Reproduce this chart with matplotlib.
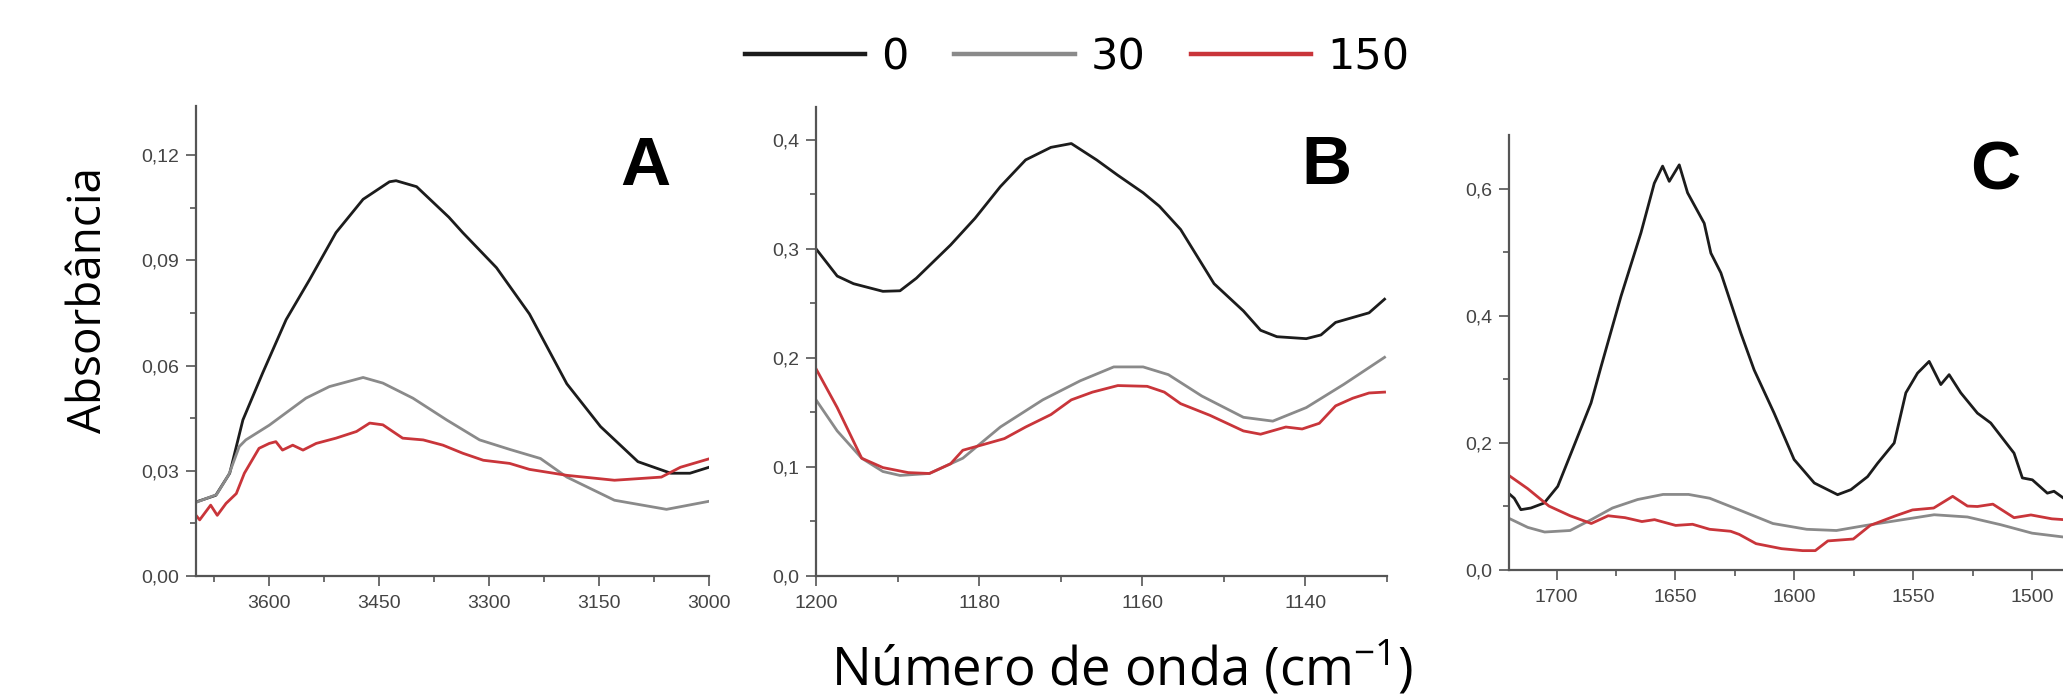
import numpy as np
import matplotlib.pyplot as plt
from matplotlib.ticker import FixedLocator, MultipleLocator, FuncFormatter

plt.rcParams['mathtext.fontset'] = 'custom'
plt.rcParams['mathtext.rm'] = 'Open Sans'

# series labels (time) and colours
labels = ['0', '30', '150']
colors = ['#1c1c1c', '#8a8a8a', '#c9353a']

# panel A: 3700-3000 cm-1
A_wn0 = [3700, 3673, 3654, 3636, 3609, 3577, 3545, 3509, 3472, 3436, 3427, 3399, 3355,
         3336, 3290, 3245, 3194, 3148, 3097, 3052, 3026, 3000]
A_y0 = [0.0211, 0.023, 0.0293, 0.0445, 0.0579, 0.0731, 0.0845, 0.0979, 0.1074, 0.1124,
        0.1127, 0.111, 0.1023, 0.0979, 0.0879, 0.0747, 0.0548, 0.0426, 0.0326, 0.0293,
        0.0293, 0.031]
A_wn30 = [3700, 3672, 3655, 3641, 3632, 3600, 3550, 3518, 3472, 3445, 3404, 3358, 3313,
          3272, 3230, 3194, 3129, 3058, 3000]
A_y30 = [0.021, 0.0232, 0.029, 0.0369, 0.0388, 0.043, 0.0507, 0.054, 0.0566, 0.055,
         0.0507, 0.0445, 0.0388, 0.0361, 0.0335, 0.0282, 0.0216, 0.019, 0.0213]
A_wn150 = [3700, 3695, 3680, 3671, 3659, 3645, 3634, 3614, 3600, 3591, 3582, 3568, 3554,
           3536, 3509, 3481, 3463, 3445, 3418, 3390, 3363, 3336, 3308, 3272, 3245, 3194,
           3129, 3065, 3039, 3000]
A_y150 = [0.0173, 0.016, 0.0202, 0.0173, 0.0207, 0.0235, 0.0293, 0.0364, 0.0378, 0.0383,
          0.0359, 0.0373, 0.0359, 0.0378, 0.0393, 0.0412, 0.0436, 0.0431, 0.0393, 0.0388,
          0.0373, 0.035, 0.033, 0.0321, 0.0304, 0.0287, 0.0273, 0.0282, 0.031, 0.0334]

# panel B: 1200-1130 cm-1
B_wn0 = [1200, 1197.4, 1195.4, 1191.8, 1189.7, 1187.7, 1183.5, 1180.5, 1177.4, 1174.3,
         1171.2, 1168.7, 1165.6, 1163, 1159.9, 1157.9, 1155.3, 1151.2, 1147.6, 1145.5,
         1143.5, 1139.9, 1138.1, 1136.3, 1132.2, 1130.3]
B_y0 = [0.300, 0.275, 0.268, 0.261, 0.2615, 0.273, 0.3035, 0.328, 0.357, 0.3815, 0.393,
        0.3965, 0.3815, 0.3674, 0.3514, 0.339, 0.3177, 0.268, 0.243, 0.2253, 0.2194,
        0.2176, 0.221, 0.2325, 0.2413, 0.2538]
B_wn30 = [1200, 1197.4, 1194.4, 1191.8, 1189.7, 1186.1, 1182, 1177.4, 1172.2, 1167.6,
          1163.5, 1159.9, 1156.8, 1152.7, 1147.6, 1144, 1139.9, 1135.3, 1130.3]
B_y30 = [0.1615, 0.133, 0.108, 0.0958, 0.0922, 0.094, 0.108, 0.1366, 0.1615, 0.179,
         0.1917, 0.1917, 0.1846, 0.165, 0.1455, 0.142, 0.1544, 0.1757, 0.2005]
B_wn150 = [1200, 1197.4, 1194.4, 1191.8, 1188.7, 1186.1, 1183.5, 1182, 1179.4, 1176.9,
           1174.3, 1171.2, 1168.7, 1166.1, 1163, 1159.4, 1157.3, 1155.3, 1151.7, 1147.6,
           1145.5, 1142.4, 1140.4, 1138.3, 1136.3, 1134.2, 1132.2, 1130.3]
B_y150 = [0.19, 0.1544, 0.108, 0.0994, 0.0948, 0.094, 0.1029, 0.1153, 0.1207, 0.126,
          0.1366, 0.148, 0.1615, 0.1686, 0.1746, 0.1739, 0.1686, 0.158, 0.1473, 0.133,
          0.130, 0.1366, 0.1348, 0.140, 0.156, 0.163, 0.1678, 0.1686]

# panel C: 1720-1487 cm-1 (cut by the picture edge)
C_wn0 = [1719.5, 1717.8, 1715, 1710.8, 1705.2, 1699.5, 1693.9, 1685.5, 1681.3, 1672.9,
         1664.5, 1658.9, 1655.4, 1652.6, 1648.4, 1644.9, 1637.9, 1635.1, 1630.9, 1622.5,
         1616.9, 1608.5, 1600.1, 1591.6, 1581.8, 1576.2, 1569.2, 1565, 1558, 1553.1,
         1548.2, 1543.3, 1538.4, 1534.9, 1530, 1523, 1517.4, 1507.6, 1504.1, 1499.9,
         1493.6, 1490.8, 1486.7]
C_y0 = [0.1186, 0.113, 0.095, 0.0976, 0.1055, 0.1317, 0.184, 0.263, 0.32, 0.431, 0.531,
        0.609, 0.636, 0.612, 0.638, 0.594, 0.546, 0.499, 0.468, 0.373, 0.315, 0.247, 0.174,
        0.137, 0.1186, 0.1265, 0.147, 0.168, 0.2, 0.279, 0.310, 0.3285, 0.292, 0.3076,
        0.279, 0.247, 0.2315, 0.184, 0.145, 0.142, 0.121, 0.124, 0.113]
C_wn30 = [1719.6, 1712.1, 1705, 1694.3, 1685.4, 1676.5, 1665.9, 1655.2, 1644.5, 1635.6,
          1623.2, 1609, 1594.8, 1582.3, 1569.9, 1552.1, 1541.2, 1527.2, 1513.2, 1500,
          1486.7]
C_y30 = [0.0806, 0.0671, 0.0598, 0.0622, 0.0793, 0.0976, 0.111, 0.119, 0.119, 0.113,
         0.0946, 0.0732, 0.0641, 0.0622, 0.0702, 0.0806, 0.087, 0.0835, 0.0713, 0.058,
         0.0519]
C_wn150 = [1719.6, 1712.1, 1703.2, 1694.3, 1685.4, 1678.3, 1671.2, 1664.1, 1658.8, 1649.9,
           1642.8, 1635.6, 1626.8, 1623.2, 1616.1, 1605.4, 1596.5, 1591.2, 1585.9, 1575.2,
           1568.1, 1557.4, 1550.3, 1541.4, 1533.4, 1527.2, 1523, 1516.5, 1507.6, 1500.5,
           1491.7, 1486.7]
C_y150 = [0.1477, 0.128, 0.1007, 0.0854, 0.0732, 0.0854, 0.0824, 0.0763, 0.0793, 0.0702,
          0.072, 0.0641, 0.061, 0.0561, 0.0415, 0.0336, 0.0305, 0.0305, 0.0458, 0.0488,
          0.0702, 0.0854, 0.0946, 0.0976, 0.116, 0.1007, 0.100, 0.1037, 0.0824, 0.0867,
          0.0806, 0.0793]

# ticks per panel
A_xticks = [3600, 3450, 3300, 3150, 3000]
A_yticks = [0.00, 0.03, 0.06, 0.09, 0.12]
B_xticks = [1200, 1180, 1160, 1140]
B_yticks = [0.0, 0.1, 0.2, 0.3, 0.4]
C_xticks = [1700, 1650, 1600, 1550, 1500]
C_yticks = [0.0, 0.2, 0.4, 0.6]

W, H = 2063, 696
fig = plt.figure(figsize=(W / 100, H / 100), dpi=100)


def px_axes(left, right, top, bottom):
    return fig.add_axes([left / W, 1 - bottom / H, (right - left) / W, (bottom - top) / H])


axA = px_axes(196, 709, 106, 576)
axB = px_axes(816, 1387, 107, 576)
axC = px_axes(1509, 2151, 135, 570)

panels = [
    (axA, [(A_wn0, A_y0), (A_wn30, A_y30), (A_wn150, A_y150)], (3700, 3000), (0, 0.134),
     A_xticks, 75, A_yticks, 0.015, 2),
    (axB, [(B_wn0, B_y0), (B_wn30, B_y30), (B_wn150, B_y150)], (1200, 1130), (0, 0.43),
     B_xticks, 10, B_yticks, 0.05, 1),
    (axC, [(C_wn0, C_y0), (C_wn30, C_y30), (C_wn150, C_y150)], (1720, 1450), (0, 0.685),
     C_xticks, 25, C_yticks, 0.1, 1),
]

for ax, series, xl, yl, xt, xminor, yt, yminor, nd in panels:
    for (x, y), c, lab in zip(series, colors, labels):
        ax.plot(x, y, color=c, lw=2.0, label=lab, solid_joinstyle='round')
    ax.set_xlim(*xl)
    ax.set_ylim(*yl)
    ax.xaxis.set_major_locator(FixedLocator(xt))
    ax.xaxis.set_minor_locator(MultipleLocator(xminor))
    ax.yaxis.set_major_locator(FixedLocator(yt))
    ax.yaxis.set_minor_locator(MultipleLocator(yminor))
    ax.yaxis.set_major_formatter(FuncFormatter(lambda v, p, nd=nd: f'{v:.{nd}f}'.replace('.', ',')))
    ax.xaxis.set_major_formatter(FuncFormatter(lambda v, p: f'{v:.0f}'))
    for s in ['top', 'right']:
        ax.spines[s].set_visible(False)
    for s in ['left', 'bottom']:
        ax.spines[s].set_color('#555555')
        ax.spines[s].set_linewidth(1.6)
    ax.tick_params(which='major', length=7, width=1.2, color='#555555', labelcolor='#444444')
    ax.tick_params(which='minor', length=4, width=1.2, color='#555555')
    ax.tick_params(axis='x', pad=6.5)
    ax.tick_params(axis='y', pad=5)
    for t in ax.get_xticklabels() + ax.get_yticklabels():
        t.set_fontfamily('Liberation Sans')
        t.set_fontsize(14)

# panel letters
for txt, x, yb in [('A', 645, 185), ('B', 1326, 184), ('C', 1995, 189)]:
    fig.text(x / W, 1 - yb / H, txt, ha='center', va='baseline', fontsize=50,
             fontweight='bold', family='Liberation Sans')

fig.text(89 / W, 1 - 300 / H, 'Absorbância', rotation=90, ha='center', va='center',
         fontsize=33, family='Open Sans')
fig.text(1122 / W, 1 - 685 / H, 'Número de onda (cm$^{-1}$)', ha='center', va='baseline',
         fontsize=38, family='Open Sans')

handles, labs = axA.get_legend_handles_labels()
leg = fig.legend(handles, labs, loc='center', bbox_to_anchor=(1077 / W, 1 - 57 / H), ncol=3,
                 frameon=False, prop=dict(family='DejaVu Sans', size=31), handlelength=2.8,
                 handletextpad=0.37, columnspacing=1.05, borderpad=0)
for ln in leg.get_lines():
    ln.set_linewidth(3.2)

fig.savefig('out.png', dpi=100)
